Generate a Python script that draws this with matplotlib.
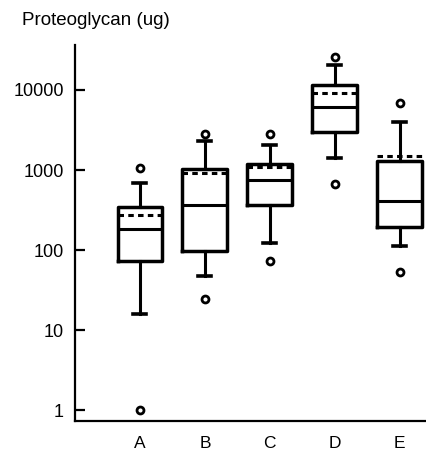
import matplotlib
matplotlib.use("Agg")
import matplotlib.pyplot as plt

# values (ug, log scale)
groups = ["A", "B", "C", "D", "E"]
q1 = [73, 97, 365, 2985, 194]
med = [183, 365, 750, 6130, 410]
q3 = [345, 1030, 1190, 11550, 1300]
means = [274, 930, 1090, 9170, 1500]
whislo = [15.8, 47, 122, 1410, 112]
whishi = [690, 2300, 2050, 20500, 3980]
fliers = [[1.0, 1060], [24.4, 2800], [73, 2850], [668, 25800], [53, 6880]]
yticks = [1, 10, 100, 1000, 10000]


def make_stats():
    """build stats dicts for bxp"""
    stats = []
    for i, g in enumerate(groups):
        stats.append({
            "label": g,
            "q1": q1[i],
            "med": med[i],
            "q3": q3[i],
            "mean": means[i],
            "whislo": whislo[i],
            "whishi": whishi[i],
            "fliers": fliers[i],
        })
    return stats


plt.rcParams["font.family"] = ["Liberation Sans", "DejaVu Sans"]

fig = plt.figure(figsize=(4.27, 4.5), dpi=100)
ax = fig.add_axes([0.1756, 0.0644, 0.8244, 0.8356])

ax.bxp(
    make_stats(),
    positions=range(1, 6),
    widths=0.69,
    capwidths=0.2,
    showmeans=True,
    meanline=True,
    boxprops=dict(color="black", linewidth=2.5),
    whiskerprops=dict(color="black", linewidth=2.2),
    capprops=dict(color="black", linewidth=2.6),
    medianprops=dict(color="black", linewidth=2.2),
    meanprops=dict(color="black", linewidth=2.2, linestyle=(0, (1.8, 1.4))),
    flierprops=dict(marker="o", markersize=5, markerfacecolor="white",
                    markeredgecolor="black", markeredgewidth=2.0),
)

ax.set_yscale("log")
ax.set_ylim(0.729, 36500)
ax.set_xlim(0, 5.42)
ax.set_yticks(yticks)
ax.set_yticklabels([str(v) for v in yticks])
ax.minorticks_off()
ax.tick_params(axis="y", direction="in", length=7, width=1.6, pad=8,
               labelsize=13)
ax.tick_params(axis="x", length=0, pad=11, labelsize=12.5)

ax.spines["top"].set_visible(False)
ax.spines["right"].set_visible(False)
ax.spines["left"].set_linewidth(1.6)
ax.spines["bottom"].set_linewidth(1.6)

fig.text(0.052, 0.955, "Proteoglycan (ug)", fontsize=13.5, va="center",
         ha="left")

fig.savefig("out.png", dpi=100)
